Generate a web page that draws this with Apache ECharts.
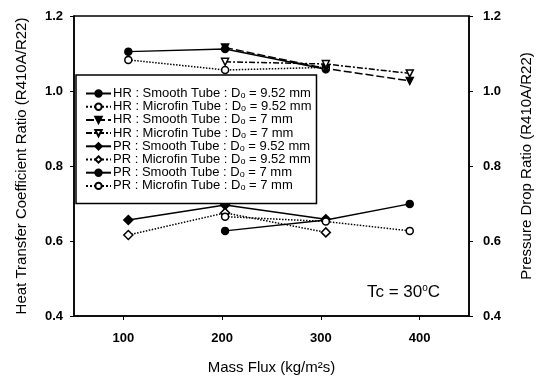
<!DOCTYPE html>
<html>
<head>
<meta charset="utf-8">
<script src="https://cdn.jsdelivr.net/npm/echarts@6/dist/echarts.min.js"></script>
<style>
  html, body { margin: 0; padding: 0; background: #fff; }
  #container { width: 539px; height: 376px; }
</style>
</head>
<body>
<div id="container"></div>
<script>
// 数据
var xTicks = [100, 200, 300, 400];
var yTicks = [0.4, 0.6, 0.8, 1.0, 1.2];

var hrSmooth952  = [[105, 1.105], [203, 1.112], [305, 1.058]];
var hrMicro952   = [[105, 1.083], [203, 1.056], [305, 1.063]];
var hrSmooth7    = [[203, 1.116], [305, 1.060], [390, 1.027]];
var hrMicro7     = [[203, 1.078], [305, 1.072], [390, 1.047]];
var prSmooth952  = [[105, 0.656], [203, 0.696], [305, 0.658]];
var prMicro952   = [[105, 0.616], [203, 0.675], [305, 0.623]];
var prSmooth7    = [[203, 0.627], [305, 0.656], [390, 0.699]];
var prMicro7     = [[203, 0.665], [305, 0.652], [390, 0.627]];

var seriesNames = [
    'HR : Smooth Tube : Do = 9.52 mm',
    'HR : Microfin Tube : Do = 9.52 mm',
    'HR : Smooth Tube : Do = 7 mm',
    'HR : Microfin Tube : Do = 7 mm',
    'PR : Smooth Tube : Do = 9.52 mm',
    'PR : Microfin Tube : Do = 9.52 mm',
    'PR : Smooth Tube : Do = 7 mm',
    'PR : Microfin Tube : Do = 7 mm'
];

var font = 'Arial, "Liberation Sans", sans-serif';

// 生成一条折线
function makeLine(name, data, axis, symbol, filled, lineType, rotate) {
    return {
        name: name,
        type: 'line',
        yAxisIndex: axis,
        data: data,
        symbol: symbol,
        symbolSize: symbol === 'diamond' ? 9 : 7,
        symbolRotate: rotate || 0,
        animation: false,
        lineStyle: { color: '#000', width: 1.5, type: lineType },
        itemStyle: {
            color: filled ? '#000' : '#fff',
            borderColor: '#000',
            borderWidth: 1.5
        }
    };
}

var myChart = echarts.init(document.getElementById('container'));

var option = {
    backgroundColor: '#fff',
    textStyle: { fontFamily: font, color: '#000' },
    grid: {
        left: 74, right: 70, top: 16, bottom: 60,
        outerBoundsMode: 'none',
        containLabel: false,
        show: true, borderColor: '#000', borderWidth: 1.5
    },
    legend: {
        orient: 'vertical',
        left: 76,
        top: 75,
        padding: [12, 5, 11, 9],
        itemGap: 0.2,
        itemWidth: 25,
        itemHeight: 8,
        backgroundColor: '#fff',
        borderColor: '#000',
        borderWidth: 1.5,
        borderRadius: 0,
        data: seriesNames,
        formatter: function (name) {
            var p = name.split('Do');
            return '{t|' + p[0] + 'D}{s|o}{t|' + p[1] + '}';
        },
        textStyle: {
            fontFamily: font,
            color: '#000',
            padding: [0, 0, 0, -3],
            rich: {
                t: { fontSize: 13, lineHeight: 13, fontFamily: font, color: '#000' },
                s: { fontSize: 9, lineHeight: 5, verticalAlign: 'bottom', fontFamily: font, color: '#000' }
            }
        }
    },
    xAxis: {
        type: 'value',
        min: 50,
        max: 450,
        name: 'Mass Flux (kg/m²s)',
        nameLocation: 'middle',
        nameGap: 44,
        nameTextStyle: { fontSize: 15, fontFamily: font, color: '#000' },
        axisLine: { show: true, lineStyle: { color: '#000', width: 1.5 } },
        axisTick: { show: true, inside: false, length: 4, customValues: xTicks, lineStyle: { color: '#000' } },
        axisLabel: {
            customValues: xTicks,
            margin: 16,
            fontSize: 13,
            fontWeight: 'bold',
            color: '#000'
        },
        splitLine: { show: false }
    },
    yAxis: [
        {
            type: 'value',
            min: 0.4,
            max: 1.2,
            interval: 0.2,
            name: 'Heat Transfer Coefficient Ratio (R410A/R22)',
            nameLocation: 'middle',
            nameGap: 45,
            nameTextStyle: { fontSize: 15, fontFamily: font, color: '#000' },
            axisLine: { show: true, lineStyle: { color: '#000', width: 1.5 } },
            axisTick: { show: true, length: 4, lineStyle: { color: '#000' } },
            axisLabel: {
                margin: 11, fontSize: 13, fontWeight: 'bold', color: '#000',
                formatter: function (v) { return v.toFixed(1); }
            },
            splitLine: { show: false }
        },
        {
            type: 'value',
            position: 'right',
            min: 0.4,
            max: 1.2,
            interval: 0.2,
            name: 'Pressure Drop Ratio (R410A/R22)',
            nameLocation: 'middle',
            nameGap: 50,
            nameRotate: 90,
            nameTextStyle: { fontSize: 15, fontFamily: font, color: '#000' },
            axisLine: { show: true, lineStyle: { color: '#000', width: 1.5 } },
            axisTick: { show: true, length: 4, lineStyle: { color: '#000' } },
            axisLabel: {
                margin: 14, fontSize: 13, fontWeight: 'bold', color: '#000',
                formatter: function (v) { return v.toFixed(1); }
            },
            splitLine: { show: false }
        }
    ],
    graphic: [
        {
            type: 'text',
            left: 367,
            top: 283,
            style: {
                text: '{m|Tc = 30}{u|o}{m|C}',
                fill: '#000',
                rich: {
                    m: { fontSize: 17, lineHeight: 18, fontFamily: font, fill: '#000' },
                    u: { fontSize: 10, lineHeight: 12, verticalAlign: 'top', fontFamily: font, fill: '#000' }
                }
            }
        }
    ],
    series: [
        makeLine(seriesNames[0], hrSmooth952, 0, 'circle', true, 'solid'),
        makeLine(seriesNames[1], hrMicro952, 0, 'circle', false, 'dotted'),
        makeLine(seriesNames[2], hrSmooth7, 0, 'triangle', true, [8, 3], 180),
        makeLine(seriesNames[3], hrMicro7, 0, 'triangle', false, [6, 2, 2, 2], 180),
        makeLine(seriesNames[4], prSmooth952, 1, 'diamond', true, 'solid'),
        makeLine(seriesNames[5], prMicro952, 1, 'diamond', false, 'dotted'),
        makeLine(seriesNames[6], prSmooth7, 1, 'circle', true, 'solid'),
        makeLine(seriesNames[7], prMicro7, 1, 'circle', false, 'dotted')
    ]
};

myChart.setOption(option, true);
</script>
</body>
</html>
